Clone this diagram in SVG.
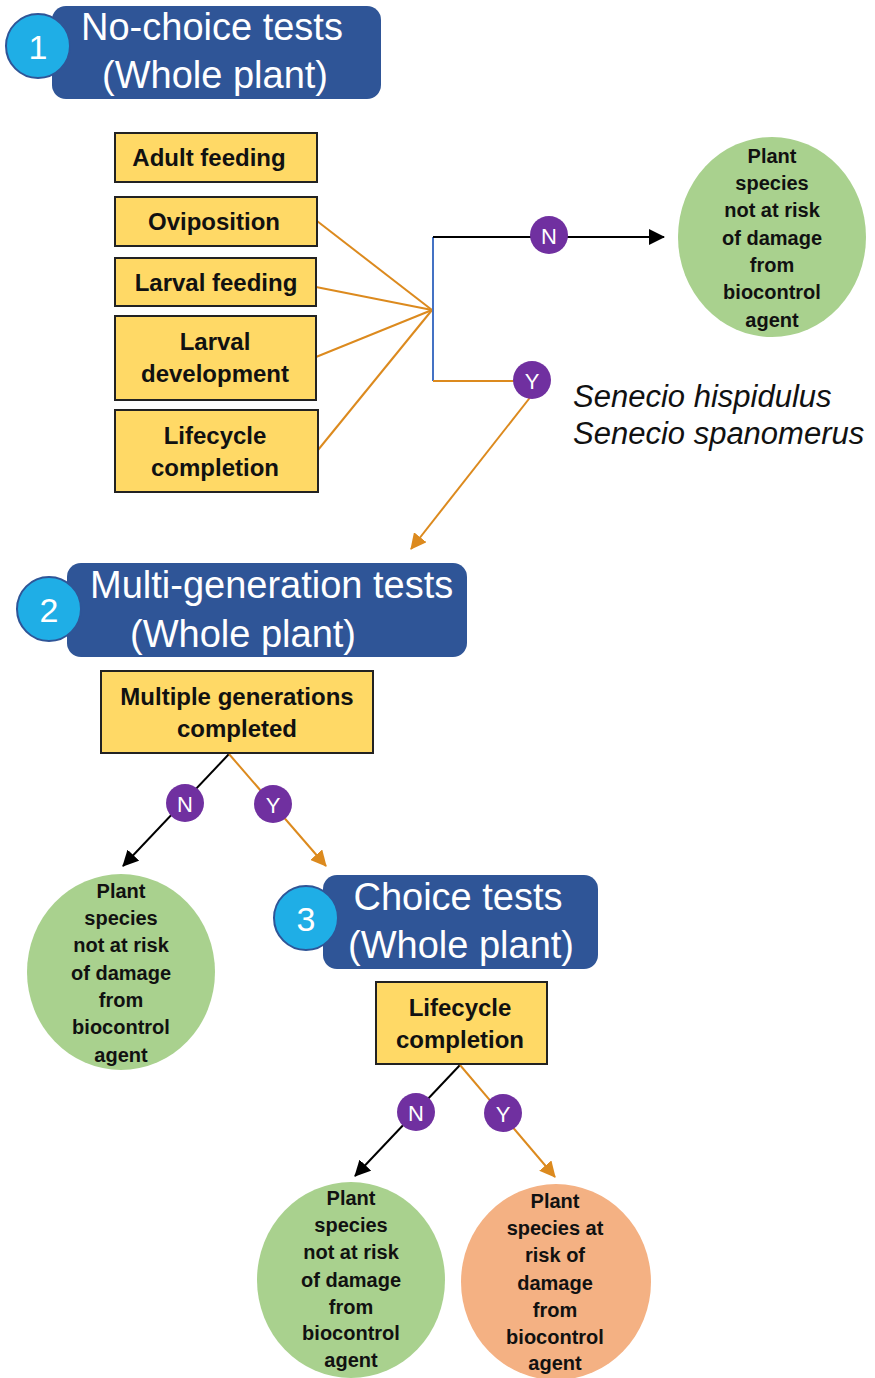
<svg xmlns="http://www.w3.org/2000/svg" width="875" height="1378" viewBox="0 0 875 1378">
<style>
.hdr{fill:#2F5597;}
.num{fill:#1FAEE6;stroke:#2F5597;stroke-width:2;}
.numt{font-family:"Liberation Sans",Arial,sans-serif;font-size:34px;fill:#fff;text-anchor:middle;dominant-baseline:central;}
.ht{font-family:"Liberation Sans",Arial,sans-serif;font-size:38px;fill:#fff;}
.box{fill:#FFD966;stroke:#222;stroke-width:2;}
.bt{font-family:"Liberation Sans",Arial,sans-serif;font-size:24px;font-weight:bold;fill:#111;text-anchor:middle;dominant-baseline:central;}
.ct{font-family:"Liberation Sans",Arial,sans-serif;font-size:20px;font-weight:bold;fill:#111;text-anchor:middle;dominant-baseline:central;}
.green{fill:#A9D18E;}
.peach{fill:#F4B183;}
.yn{fill:#7030A0;}
.ynt{font-family:"Liberation Sans",Arial,sans-serif;font-size:22px;fill:#fff;text-anchor:middle;dominant-baseline:central;}
.or{stroke:#DC8A1E;stroke-width:2;fill:none;}
.bk{stroke:#000;stroke-width:2;fill:none;}
.bl{stroke:#4472C4;stroke-width:2;fill:none;}
.it{font-family:"Liberation Sans",Arial,sans-serif;font-size:31px;font-style:italic;fill:#111;}
</style>
<defs>
<marker id="abL" markerWidth="16" markerHeight="16" refX="15" refY="8" orient="auto" markerUnits="userSpaceOnUse" viewBox="0 0 16 16"><path d="M0,0 L16,8 L0,16 z" fill="#000"/></marker>
<marker id="aoL" markerWidth="16" markerHeight="16" refX="15" refY="8" orient="auto" markerUnits="userSpaceOnUse" viewBox="0 0 16 16"><path d="M0,0 L16,8 L0,16 z" fill="#DC8A1E"/></marker>
</defs>

<g id="connectors">
<line class="or" x1="317" y1="221" x2="432" y2="310"/>
<line class="or" x1="316" y1="287" x2="432" y2="310"/>
<line class="or" x1="316" y1="357" x2="432" y2="310"/>
<line class="or" x1="318" y1="450" x2="432" y2="310"/>
<line class="bl" x1="433" y1="237" x2="433" y2="381"/>
<line class="bk" x1="433" y1="237" x2="664" y2="237" marker-end="url(#abL)"/>
<line class="or" x1="433" y1="381" x2="520" y2="381"/>
<line class="or" x1="532" y1="395" x2="411" y2="549" marker-end="url(#aoL)"/>
<line class="bk" x1="229" y1="754" x2="123" y2="866" marker-end="url(#abL)"/>
<line class="or" x1="229" y1="754" x2="326" y2="866" marker-end="url(#aoL)"/>
<line class="bk" x1="460" y1="1065" x2="355" y2="1176" marker-end="url(#abL)"/>
<line class="or" x1="460" y1="1065" x2="555" y2="1177" marker-end="url(#aoL)"/>
</g>

<g id="header1">
<rect class="hdr" x="52" y="6" width="329" height="93" rx="14"/>
<circle class="num" cx="38" cy="46" r="32"/>
<text class="numt" x="38" y="47">1</text>
<text class="ht" x="212" y="40" text-anchor="middle">No-choice tests</text>
<text class="ht" x="215" y="88" text-anchor="middle">(Whole plant)</text>
</g>

<g id="adult-feeding"><rect class="box" x="115" y="133" width="202" height="49"/><text class="bt" x="209" y="157">Adult feeding</text></g>
<g id="oviposition"><rect class="box" x="115" y="197" width="202" height="49"/><text class="bt" x="214" y="221">Oviposition</text></g>
<g id="larval-feeding"><rect class="box" x="115" y="258" width="201" height="48"/><text class="bt" x="216" y="282">Larval feeding</text></g>
<g id="larval-development"><rect class="box" x="115" y="316" width="201" height="84"/><text class="bt" x="215" y="341">Larval</text><text class="bt" x="215" y="373">development</text></g>
<g id="lifecycle-completion-1"><rect class="box" x="115" y="410" width="203" height="82"/><text class="bt" x="215" y="435">Lifecycle</text><text class="bt" x="215" y="467">completion</text></g>

<g id="n1"><circle class="yn" cx="549" cy="235" r="19"/><text class="ynt" x="549" y="236">N</text></g>
<g id="y1"><circle class="yn" cx="532" cy="380" r="19"/><text class="ynt" x="532" y="381">Y</text></g>

<g id="outcome1">
<ellipse class="green" cx="772" cy="237" rx="94" ry="100"/>
<text class="ct" x="772" y="156">Plant</text>
<text class="ct" x="772" y="183">species</text>
<text class="ct" x="772" y="210">not at risk</text>
<text class="ct" x="772" y="238">of damage</text>
<text class="ct" x="772" y="265">from</text>
<text class="ct" x="772" y="292">biocontrol</text>
<text class="ct" x="772" y="320">agent</text>
</g>

<g id="species">
<text class="it" x="573" y="407">Senecio hispidulus</text>
<text class="it" x="573" y="444">Senecio spanomerus</text>
</g>

<g id="header2">
<rect class="hdr" x="67" y="563" width="400" height="94" rx="14"/>
<circle class="num" cx="49" cy="609" r="32"/>
<text class="numt" x="49" y="610">2</text>
<text class="ht" x="90" y="598">Multi-generation tests</text>
<text class="ht" x="130" y="647">(Whole plant)</text>
</g>

<g id="multiple-generations"><rect class="box" x="101" y="671" width="272" height="82"/><text class="bt" x="237" y="696">Multiple generations</text><text class="bt" x="237" y="728">completed</text></g>

<g id="n2"><circle class="yn" cx="185" cy="803" r="19"/><text class="ynt" x="185" y="804">N</text></g>
<g id="y2"><circle class="yn" cx="273" cy="804" r="19"/><text class="ynt" x="273" y="805">Y</text></g>

<g id="outcome2">
<ellipse class="green" cx="121" cy="972" rx="94" ry="98"/>
<text class="ct" x="121" y="891">Plant</text>
<text class="ct" x="121" y="918">species</text>
<text class="ct" x="121" y="945">not at risk</text>
<text class="ct" x="121" y="973">of damage</text>
<text class="ct" x="121" y="1000">from</text>
<text class="ct" x="121" y="1027">biocontrol</text>
<text class="ct" x="121" y="1055">agent</text>
</g>

<g id="header3">
<rect class="hdr" x="323" y="875" width="275" height="94" rx="14"/>
<circle class="num" cx="306" cy="918" r="32"/>
<text class="numt" x="306" y="919">3</text>
<text class="ht" x="458" y="910" text-anchor="middle">Choice tests</text>
<text class="ht" x="461" y="958" text-anchor="middle">(Whole plant)</text>
</g>

<g id="lifecycle-completion-3"><rect class="box" x="376" y="982" width="171" height="82"/><text class="bt" x="460" y="1007">Lifecycle</text><text class="bt" x="460" y="1039">completion</text></g>

<g id="n3"><circle class="yn" cx="416" cy="1112" r="19"/><text class="ynt" x="416" y="1113">N</text></g>
<g id="y3"><circle class="yn" cx="503" cy="1113" r="19"/><text class="ynt" x="503" y="1114">Y</text></g>

<g id="outcome3">
<ellipse class="green" cx="351" cy="1280" rx="94" ry="98"/>
<text class="ct" x="351" y="1198">Plant</text>
<text class="ct" x="351" y="1225">species</text>
<text class="ct" x="351" y="1252">not at risk</text>
<text class="ct" x="351" y="1280">of damage</text>
<text class="ct" x="351" y="1307">from</text>
<text class="ct" x="351" y="1333">biocontrol</text>
<text class="ct" x="351" y="1360">agent</text>
</g>

<g id="outcome4">
<ellipse class="peach" cx="556" cy="1282" rx="95" ry="98"/>
<text class="ct" x="555" y="1201">Plant</text>
<text class="ct" x="555" y="1228">species at</text>
<text class="ct" x="555" y="1255">risk of</text>
<text class="ct" x="555" y="1283">damage</text>
<text class="ct" x="555" y="1310">from</text>
<text class="ct" x="555" y="1337">biocontrol</text>
<text class="ct" x="555" y="1363">agent</text>
</g>
</svg>
